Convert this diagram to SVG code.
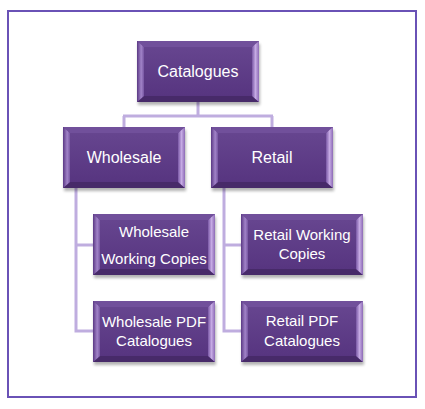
<svg xmlns="http://www.w3.org/2000/svg" width="425" height="409" viewBox="0 0 425 409">
<style>
.lbl{font-family:"Liberation Sans",Arial,sans-serif;fill:#ffffff;text-anchor:middle}
.big{font-size:16px}
.sm{font-size:15px}
.con{fill:none;stroke:#bfaddf;stroke-width:3}
</style>
<defs>
<linearGradient id="gL" x1="0" y1="0" x2="1" y2="0">
<stop offset="0" stop-color="#5a3884"/><stop offset="0.6" stop-color="#a183c8"/><stop offset="1" stop-color="#7756a2"/>
</linearGradient>
<linearGradient id="gR" x1="0" y1="0" x2="1" y2="0">
<stop offset="0" stop-color="#7a58a6"/><stop offset="0.5" stop-color="#c6abe4"/><stop offset="1" stop-color="#8d6bb6"/>
</linearGradient>
<linearGradient id="gF" x1="0" y1="0" x2="0" y2="1">
<stop offset="0" stop-color="#66458f"/><stop offset="1" stop-color="#573580"/>
</linearGradient>
<filter id="sh" x="-10%" y="-10%" width="130%" height="140%">
<feGaussianBlur stdDeviation="1.5"/>
</filter>
<g id="box">
<rect x="1" y="3" width="122" height="61" fill="#000" opacity="0.3" filter="url(#sh)"/>
<rect x="0" y="0" width="122" height="61" fill="#5c3985"/>
<polygon points="0,0 122,0 115,6 7,6" fill="#71509b"/>
<polygon points="0,61 7,55 115,55 122,61" fill="#472a69"/>
<polygon points="0,0 7,6 7,55 0,61" fill="url(#gL)"/>
<polygon points="122,0 115,6 115,55 122,61" fill="url(#gR)"/>
<rect x="7" y="6" width="108" height="49" fill="url(#gF)"/>
</g>
</defs>
<rect x="8" y="11" width="408" height="386" fill="#ffffff" stroke="#6a52b6" stroke-width="2"/>
<g id="connectors">
<path class="con" d="M198,102 V116 M123,116 H273 M124,116 V127 M272,116 V127"/>
<path class="con" d="M76,188 V331 H93 M76,245 H93"/>
<path class="con" d="M224,188 V331 H241 M224,245 H241"/>
</g>
<g id="catalogues"><use href="#box" x="137" y="41"/><text class="lbl big" x="198" y="77">Catalogues</text></g>
<g id="wholesale"><use href="#box" x="63" y="127"/><text class="lbl big" x="124" y="163">Wholesale</text></g>
<g id="retail"><use href="#box" x="211" y="127"/><text class="lbl big" x="272" y="163">Retail</text></g>
<g id="wholesale-working"><use href="#box" x="93" y="214"/><text class="lbl sm" x="154" y="237">Wholesale</text><text class="lbl sm" x="154" y="264">Working Copies</text></g>
<g id="retail-working"><use href="#box" x="241" y="214"/><text class="lbl sm" x="302" y="240">Retail Working</text><text class="lbl sm" x="302" y="259">Copies</text></g>
<g id="wholesale-pdf"><use href="#box" x="93" y="301"/><text class="lbl sm" x="154" y="327">Wholesale PDF</text><text class="lbl sm" x="154" y="346">Catalogues</text></g>
<g id="retail-pdf"><use href="#box" x="241" y="301"/><text class="lbl sm" x="302" y="326">Retail PDF</text><text class="lbl sm" x="302" y="346">Catalogues</text></g>
</svg>
